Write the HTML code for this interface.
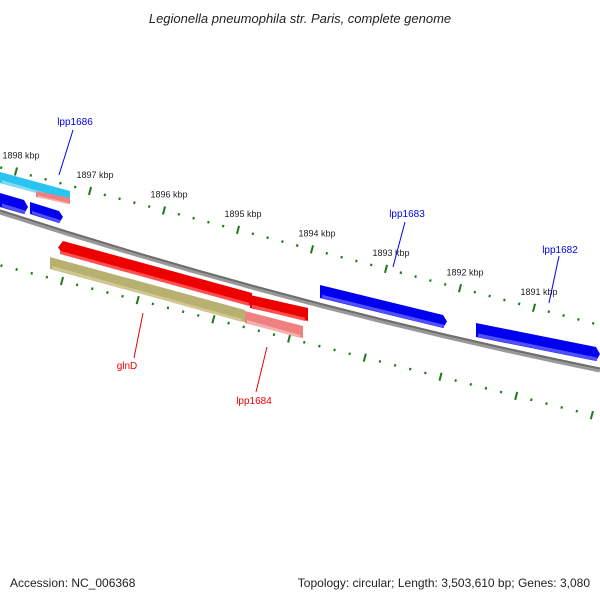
<!DOCTYPE html>
<html><head><meta charset="utf-8"><style>
body{margin:0;background:#fff}
svg{display:block;font-family:"Liberation Sans",sans-serif}
</style></head><body>
<svg id="c" width="600" height="600" viewBox="0 0 600 600">
<text x="300" y="23" text-anchor="middle" font-size="13" font-style="italic" fill="#222">Legionella pneumophila str. Paris, complete genome</text>
<g id="ticks"></g>
<path d="M0,212 Q300,309 600,370" stroke="#999" stroke-width="5" fill="none"/>
<path d="M0,210.5 Q300,307.5 600,368.5" stroke="#6e6e6e" stroke-width="2" fill="none"/>
<g id="feats"></g>
<g id="labels"></g>
<text x="10" y="587" font-size="12" fill="#222">Accession: NC_006368</text>
<text x="590" y="587" font-size="12" text-anchor="end" fill="#222">Topology: circular; Length: 3,503,610 bp; Genes: 3,080</text>
</svg>
<script>
const kbpLabels=[1898,1897,1896,1895,1894,1893,1892,1891];
const minorPerMajor=5;
const features=[
 {name:'lpp1686-cyan',x1:0,x2:70,y1:172,y2:191,color:'#29c4f0',lite:'#7fdcf8',th:11},
 {name:'lpp1686-pink',x1:36,x2:70,y1:191,y2:198,color:'#f08080',lite:'#f7b0b0',th:6},
 {name:'blue-gene-a',x1:0,x2:28,y1:193,y2:200,color:'#0000ee',lite:'#5050ff',th:14,arrow:1},
 {name:'blue-gene-b',x1:30,x2:63,y1:202,y2:211,color:'#0000ee',lite:'#5050ff',th:12,arrow:1},
 {name:'glnD',x1:58,x2:252,y1:241,y2:293,color:'#ee0000',lite:'#ff5050',th:13,arrow:-1},
 {name:'lpp1684-red',x1:250,x2:308,y1:295,y2:308,color:'#ee0000',lite:'#ff5050',th:13},
 {name:'glnD-olive',x1:50,x2:245,y1:257,y2:310,color:'#b8b070',lite:'#d0c890',th:12},
 {name:'lpp1684-pink',x1:245,x2:303,y1:311,y2:326,color:'#f08080',lite:'#f7b0b0',th:12},
 {name:'lpp1683',x1:320,x2:447,y1:285,y2:315,color:'#0000ee',lite:'#5050ff',th:13,arrow:1},
 {name:'lpp1682',x1:476,x2:600,y1:323,y2:347,color:'#0000ee',lite:'#5050ff',th:14,arrow:1}
];
const labelNames=['lpp1686','lpp1683','lpp1682','glnD','lpp1684'];
const labelPos=[[75,125,73,130,59,175,'#00e'],[407,217,405,222,393,267,'#00e'],[560,253,559,256,549,303,'#00e'],[127,369,143,313,134,358,'#e00'],[254,404,267,347,256,392,'#e00']];
const NS='http://www.w3.org/2000/svg';
function mk(t,a,p){const e=document.createElementNS(NS,t);for(const k in a)e.setAttribute(k,a[k]);p.appendChild(e);return e;}
function upperPos(k){const x=90+(1897-k)*74;return [x,191+(x-90)*0.263];}
function lowerPos(k){const x=62+(1897-k)*75.7;return [x,281+(x-62)*0.253];}
const tg=document.getElementById('ticks');
for(let k=kbpLabels[0]+1;k>=kbpLabels[kbpLabels.length-1]-1;k--){
 for(let m=0;m<minorPerMajor;m++){
  const kk=k-m/minorPerMajor;
  [upperPos(kk),lowerPos(kk)].forEach(p=>{
   if(p[0]<-5||p[0]>605)return;
   const L=m===0?4:1.2;
   const l=mk('line',{x1:p[0]+L*0.26,y1:p[1]-L,x2:p[0]-L*0.26,y2:p[1]+L,stroke:'#1a7a1a','stroke-width':2},tg);
   
   
  });
 }
}
kbpLabels.forEach(k=>{const p=upperPos(k);
 const t=mk('text',{x:p[0]+5,y:p[1]-13,'font-size':9,'text-anchor':'middle',fill:'#222'},tg);
 t.textContent=k+' kbp';
 
 
});
const fg=document.getElementById('feats');
features.forEach(f=>{
 const y1=f.y1,y2=f.y2,h=f.th;
 let d;
 if(f.arrow===1)d=`M${f.x1},${y1} L${f.x2-4},${y2} L${f.x2},${y2+h/2} L${f.x2-4},${y2+h} L${f.x1},${y1+h}Z`;
 else if(f.arrow===-1)d=`M${f.x1+5},${y1} L${f.x2},${y2} L${f.x2},${y2+h} L${f.x1+5},${y1+h} L${f.x1},${y1+h/2}Z`;
 else d=`M${f.x1},${y1} L${f.x2},${y2} L${f.x2},${y2+h} L${f.x1},${y1+h}Z`;
 const g=mk('g',{},fg);
 
 
 mk('path',{d,fill:f.color},g);
 mk('path',{d:`M${f.x1+2},${y1+h*0.75} L${f.x2-3},${y2+h*0.75} L${f.x2-3},${y2+h} L${f.x1+2},${y1+h}Z`,fill:f.lite},g);
});
const lg=document.getElementById('labels');
labelNames.forEach((n,i)=>{const p=labelPos[i];
 const l=mk('line',{x1:p[2],y1:p[3],x2:p[4],y2:p[5],stroke:p[6],'stroke-width':1},lg);
 
 
 const t=mk('text',{x:p[0],y:p[1],'font-size':10,'text-anchor':'middle',fill:p[6]},lg);
 t.textContent=n;
 
 
});
</script>
</body></html>
